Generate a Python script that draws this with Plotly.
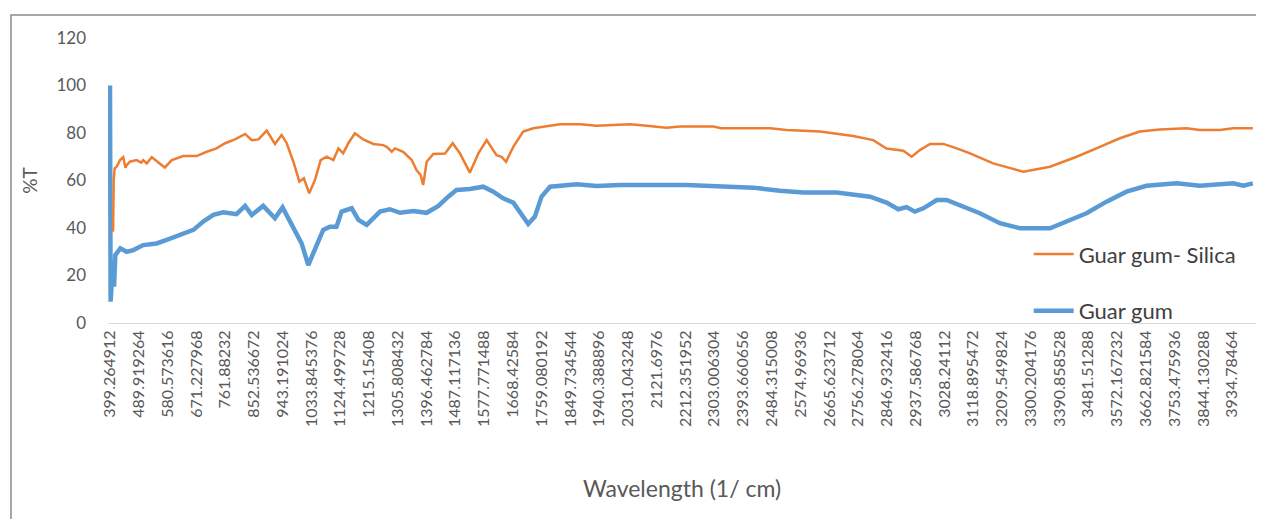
import plotly.graph_objects as go

# ---- data ----
tick_labels = ["399.264912", "489.919264", "580.573616", "671.227968", "761.88232",
               "852.536672", "943.191024", "1033.845376", "1124.499728", "1215.15408",
               "1305.808432", "1396.462784", "1487.117136", "1577.771488", "1668.42584",
               "1759.080192", "1849.734544", "1940.388896", "2031.043248", "2121.6976",
               "2212.351952", "2303.006304", "2393.660656", "2484.315008", "2574.96936",
               "2665.623712", "2756.278064", "2846.932416", "2937.586768", "3028.24112",
               "3118.895472", "3209.549824", "3300.204176", "3390.858528", "3481.51288",
               "3572.167232", "3662.821584", "3753.475936", "3844.130288", "3934.78464"]

silica_x = [405, 409, 411, 414, 420, 431, 441, 448, 452, 462, 483, 498, 504, 515, 531, 546,
            572, 594, 630, 672, 704, 735, 762, 793, 825, 846, 867, 893, 919, 940, 956, 977,
            996, 1010, 1027, 1045, 1063, 1082, 1103, 1119, 1134, 1150, 1171, 1197, 1229, 1260,
            1271, 1287, 1297, 1323, 1350, 1365, 1378, 1386, 1397, 1418, 1455, 1479, 1502, 1533,
            1560, 1586, 1617, 1633, 1647, 1670, 1701, 1733, 1775, 1817, 1880, 1933, 1985, 2038,
            2090, 2153, 2195, 2300, 2325, 2479, 2531, 2636, 2741, 2804, 2846, 2899, 2925, 2951,
            2983, 3025, 3067, 3109, 3182, 3277, 3361, 3445, 3518, 3581, 3644, 3707, 3791, 3833,
            3896, 3938, 4000]
silica_y = [38.5, 39, 60.2, 65.1, 65.8, 68.6, 69.8, 65.4, 66.5, 67.9, 68.6, 67.5, 68.6, 67.2, 69.8, 68.2,
            65.5, 68.6, 70.3, 70.3, 72.1, 73.5, 75.7, 77.3, 79.6, 77, 77.3, 81, 75.4, 79.2, 75.7, 67.9,
            59.5, 60.9, 54.6, 60.2, 68.6, 70, 68.6, 73.5, 71.4, 75.7, 79.9, 77.3, 75.4, 74.9,
            74.2, 72.1, 73.5, 72.1, 68.6, 64.4, 62.3, 58.1, 67.9, 71.2, 71.4, 75.7, 71.4, 63.3,
            71.4, 77, 70.7, 70, 67.9, 74.2, 80.6, 82, 82.7, 83.7, 83.7, 83.1, 83.4, 83.7,
            83.1, 82.2, 82.7, 82.7, 82, 82, 81.3, 80.6, 78.7, 77, 73.5, 72.5, 70, 72.8,
            75.4, 75.4, 73.5, 71.4, 67.2, 63.7, 65.8, 70, 74.2, 77.8, 80.6, 81.5, 82, 81.3,
            81.3, 82, 82]

guar_x = [399.3, 401.2, 403, 407.7, 412, 416, 432, 452, 473, 504, 546, 578, 620, 662, 693, 725,
          756, 798, 825, 846, 882, 919, 943, 977, 1003, 1024, 1045, 1071, 1092, 1113, 1129, 1161,
          1182, 1208, 1250, 1281, 1313, 1355, 1397, 1434, 1465, 1491, 1533, 1575, 1607, 1638,
          1670, 1696, 1717, 1738, 1759, 1786, 1817, 1870, 1933, 2006, 2216, 2321, 2426, 2510,
          2584, 2689, 2794, 2846, 2883, 2909, 2935, 2962, 3004, 3035, 3077, 3140, 3203, 3266,
          3361, 3413, 3476, 3539, 3602, 3665, 3760, 3833, 3886, 3938, 3970, 4000]
guar_y = [100, 9, 12.6, 25.8, 15.3, 28.6, 31.4, 30, 30.7, 32.8, 33.5, 35, 37.3, 39.2, 42.7, 45.5,
          46.6, 45.8, 49.3, 45.5, 49.3, 44.1, 48.7, 40.5, 33.5, 24.4, 30.7, 39.2, 40.5, 40.5, 46.9, 48.3,
          43.4, 41.3, 46.9, 47.9, 46.4, 47.2, 46.4, 49.3, 53.2, 56, 56.4, 57.4, 55.3, 52.5,
          50.7, 45.5, 41.7, 44.8, 53.2, 57.4, 57.7, 58.4, 57.7, 58.1, 58.1, 57.4, 57, 55.7,
          54.9, 54.9, 53.2, 50.7, 47.9, 48.8, 46.9, 48.3, 51.8, 51.8, 49.7, 46.2, 42, 39.9,
          39.9, 42.7, 46.2, 51.1, 55.3, 57.8, 58.8, 57.8, 58.1, 58.8, 57.8, 58.8]

y_ticks = [0, 20, 40, 60, 80, 100, 120]

FONT = "Lato"
GREY = "#595959"

fig = go.Figure()
fig.add_trace(go.Scatter(x=guar_x, y=guar_y, mode="lines", name="Guar gum",
                         line=dict(color="#5B9BD5", width=4.5), legendgroup="b", legendrank=2))
fig.add_trace(go.Scatter(x=silica_x, y=silica_y, mode="lines", name="Guar gum- Silica",
                         line=dict(color="#ED7D31", width=2.5), legendgroup="a", legendrank=1))

fig.update_layout(
    width=1256, height=511,
    margin=dict(l=100, r=8, t=30, b=196),
    paper_bgcolor="white", plot_bgcolor="white",
    font=dict(family=FONT, color=GREY),
    showlegend=True,
    legend=dict(x=0.802, y=0.315, xanchor="left", yanchor="top",
                font=dict(size=22, color="#404040", family=FONT),
                tracegroupgap=25, itemwidth=40, bgcolor="rgba(0,0,0,0)"),
    xaxis=dict(range=[393, 4010], tickmode="array",
               tickvals=[float(t) for t in tick_labels], ticktext=tick_labels,
               tickangle=-90, tickfont=dict(size=16, color=GREY),
               showgrid=False, zeroline=False, showline=True, linecolor="#D9D9D9", linewidth=1,
               ticks="", title=dict(text="Wavelength (1/ cm)", font=dict(size=23, color=GREY), standoff=54)),
    yaxis=dict(range=[0, 120], tickmode="array", tickvals=y_ticks,
               tickfont=dict(size=17, color=GREY), showgrid=False, zeroline=False,
               showline=False, ticks="", ticklabelstandoff=21,
               title=dict(text="%T", font=dict(size=19, color=GREY), standoff=13)),
    shapes=[dict(type="rect", xref="paper", yref="paper",
                 x0=(3 - 100) / 1148, x1=1.2, y0=-1.0, y1=(315 - 7) / 285,
                 line=dict(color="#8C8C8C", width=1.5), fillcolor="rgba(0,0,0,0)", layer="below")],
)

fig.write_html("out.html")
